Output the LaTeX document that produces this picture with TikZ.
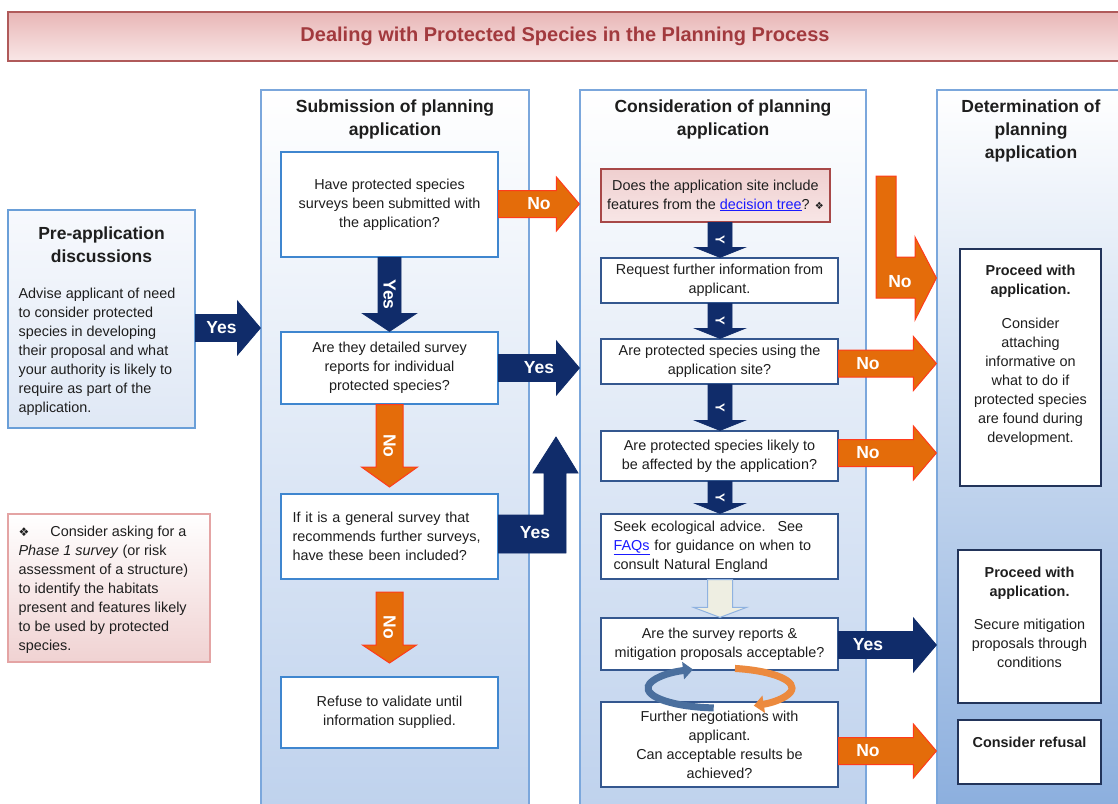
\documentclass[tikz,border=0pt]{standalone}
\usepackage{fontspec}
\setmainfont{Liberation Sans}
\newfontfamily\symfont{DejaVu Sans}
\usetikzlibrary{calc,positioning,arrows.meta}

\definecolor{ink}{HTML}{1E1E1E}
\definecolor{laneline}{HTML}{7BA7DC}
\definecolor{lanebot}{HTML}{BFD2ED}
\definecolor{detbot}{HTML}{8CAFDE}
\definecolor{subline}{HTML}{3F86CF}
\definecolor{conline}{HTML}{34578F}
\definecolor{detline}{HTML}{22345A}
\definecolor{pinkline}{HTML}{A84848}
\definecolor{pinktop}{HTML}{EFCFCF}
\definecolor{pinkbot}{HTML}{F8E6E6}
\definecolor{preline}{HTML}{6A9FD8}
\definecolor{pretop}{HTML}{F7F9FD}
\definecolor{prebot}{HTML}{DFE8F5}
\definecolor{phaseline}{HTML}{E4A4A4}
\definecolor{phasebot}{HTML}{F0D2D2}
\definecolor{titleline}{HTML}{B05A5A}
\definecolor{titletop}{HTML}{E8B6B6}
\definecolor{titlebot}{HTML}{F9E7E7}
\definecolor{titletext}{HTML}{A23A3E}
\definecolor{orangefill}{HTML}{E46C0A}
\definecolor{orangeline}{HTML}{FF3B1C}
\definecolor{navy}{HTML}{102C6A}
\definecolor{beige}{HTML}{EEEEE2}
\definecolor{beigeline}{HTML}{8FB2E0}
\definecolor{linkblue}{HTML}{1A1AFF}
\definecolor{cycleblue}{HTML}{4A6F9E}
\definecolor{cycleorange}{HTML}{EC8A3E}

\newcommand\bodysize{\fontsize{14.4}{19}\selectfont}
\newcommand\headsize{\fontsize{17.5}{23}\selectfont\bfseries}
\newcommand\tagsize{\fontsize{17.5}{20}\selectfont\bfseries}
\newcommand\featmark[1]{{\symfont\fontsize{#1}{#1}\selectfont ❖}}
\newcommand\link[1]{\textcolor{linkblue}{\underline{#1}}}

% block arrow pointing right: name, style, start, tip, label position, label
\newcommand\harrow[6]{%
  \path[#2] ($#3+(0,-13.5)$) -- ($#4+(-23,-13.5)$) -- ($#4+(-23,-27)$) -- #4
    -- ($#4+(-23,27)$) -- ($#4+(-23,13.5)$) -- ($#3+(0,13.5)$) -- cycle;
  \node[arrowtag] (#1) at ($#3!#5!#4$) {#6};
}
% block arrow pointing down: name, style, start, tip, half shaft, half head, head length, label
\newcommand\varrow[8]{%
  \path[#2] ($#3+(-#5,0)$) -- ($#4+(-#5,-#7)$) -- ($#4+(-#6,-#7)$) -- #4
    -- ($#4+(#6,-#7)$) -- ($#4+(#5,-#7)$) -- ($#3+(#5,0)$) -- cycle;
  \node[arrowtag, rotate=-90] (#1) at ($#3!0.5!#4$) {#8};
}

\tikzset{
  lane/.style={draw=laneline, line width=1.2pt, top color=white, bottom color=lanebot},
  subbox/.style={draw=subline, line width=1.2pt, fill=white, inner sep=0pt,
    align=center, font=\bodysize, text=ink},
  conbox/.style={subbox, draw=conline},
  detbox/.style={subbox, draw=detline},
  pinkbox/.style={subbox, draw=pinkline, top color=pinktop, bottom color=pinkbot},
  headtext/.style={font=\headsize, align=center, inner sep=0pt, text=ink},
  bodytext/.style={font=\bodysize, inner sep=0pt, text=ink},
  arrowtag/.style={font=\tagsize, text=white, inner sep=0pt},
  noarrow/.style={fill=orangefill, draw=orangeline, line width=1pt},
  yesarrow/.style={fill=navy, draw=navy, line width=0.8pt},
  cycle/.style={line width=7pt, -{Triangle[width=17pt,length=10pt]}},
}

\begin{document}
\begin{tikzpicture}[x=1pt,y=-1pt]
  \useasboundingbox (0,0) rectangle (1118,803);

  \node[draw=titleline, line width=1.5pt, top color=titletop, bottom color=titlebot,
    minimum width=1114, minimum height=49, text=titletext,
    font=\fontsize{20}{24}\selectfont\bfseries] (title) at (565,36.5)
    {Dealing with Protected Species in the Planning Process};

  % pre-application and the note
  \node[draw=preline, line width=1.2pt, top color=pretop, bottom color=prebot,
    minimum width=187, minimum height=218] (pre) at (101.5,319) {};
  \node[headtext, below=17pt of pre.north] (prehead) {Pre-application\\discussions};
  \node[bodytext, align=left, below right=78pt and 11pt of pre.north west] (prebody)
    {Advise applicant of need\\to consider protected\\species in developing\\their proposal and what\\your authority is likely to\\require as part of the\\application.};

  \node[draw=phaseline, line width=1.2pt, top color=white, bottom color=phasebot,
    minimum width=202, minimum height=148] (phase) at (109,588) {};
  \node[bodytext, align=left, below right=12pt and 11pt of phase.north west] (phasebody)
    {\featmark{12}\hspace{21pt}Consider asking for a\\\textit{Phase 1 survey} (or risk\\assessment of a structure)\\to identify the habitats\\present and features likely\\to be used by protected\\species.};

  % submission
  \node[lane, minimum width=268, minimum height=716] (subcol) at (395,448) {};
  \node[headtext, below=10pt of subcol.north] (subhead) {Submission of planning\\application};
  \node[subbox, minimum width=217, minimum height=105] (q1) at (389.5,204.5)
    {Have protected species\\surveys been submitted with\\the application?};
  \node[subbox, minimum width=217, minimum height=72] (q2) at (389.5,368)
    {Are they detailed survey\\reports for individual\\protected species?};
  \node[subbox, minimum width=217, minimum height=85, align=left, text width=194] (q3) at (389.5,536.5)
    {If it is a general survey that\\recommends further surveys,\\have these been included?};
  \node[subbox, minimum width=217, minimum height=71] (q4) at (389.5,712.5)
    {Refuse to validate until\\information supplied.};

  % consideration
  \node[lane, minimum width=286, minimum height=716] (concol) at (723,448) {};
  \node[headtext, below=10pt of concol.north] (conhead) {Consideration of planning\\application};
  \node[pinkbox, minimum width=229, minimum height=53] (cA) at (715.5,195.5)
    {Does the application site include\\features from the \link{decision tree}? \featmark{10}};
  \node[conbox, minimum width=237, minimum height=45] (cB) at (719.5,280.5)
    {Request further information from\\applicant.};
  \node[conbox, minimum width=237, minimum height=45] (cC) at (719.5,361.5)
    {Are protected species using the\\application site?};
  \node[conbox, minimum width=237, minimum height=50] (cD) at (719.5,456)
    {Are protected species likely to\\be affected by the application?};
  \node[conbox, minimum width=237, minimum height=65, align=left, text width=212] (cE) at (719.5,546.5)
    {Seek ecological advice.~ See\\\link{FAQs} for guidance on when to\\consult Natural England};
  \node[conbox, minimum width=237, minimum height=52] (cF) at (719.5,644)
    {Are the survey reports \&\\mitigation proposals acceptable?};
  \node[conbox, minimum width=237, minimum height=85] (cG) at (719.5,744.5)
    {Further negotiations with\\applicant.\\Can acceptable results be\\achieved?};

  % determination
  \node[lane, bottom color=detbot, minimum width=188, minimum height=716] (detcol) at (1031,448) {};
  \node[headtext, below=10pt of detcol.north] (dethead) {Determination of\\planning\\application};
  \node[detbox, minimum width=141, minimum height=237] (d1) at (1030.5,367.5) {};
  \node[bodytext, align=center, below=16pt of d1.north] (d1text)
    {\textbf{Proceed with}\\\textbf{application.}\\[15pt]Consider\\attaching\\informative on\\what to do if\\protected species\\are found during\\development.};
  \node[detbox, minimum width=143, minimum height=153] (d2) at (1029.5,626.5) {};
  \node[bodytext, align=center, below=17pt of d2.north] (d2text)
    {\textbf{Proceed with}\\\textbf{application.}\\[14pt]Secure mitigation\\proposals through\\conditions};
  \node[detbox, minimum width=143, minimum height=64] (d3) at (1029.5,752) {};
  \node[bodytext, below=17pt of d3.north] (d3text) {\textbf{Consider refusal}};

  % straight block arrows
  \harrow{preyes}{yesarrow}{(pre.east |- 0,328)}{(subcol.west |- 0,328)}{0.4}{Yes}
  \harrow{q1no}{noarrow}{(q1.east |- 0,204)}{(concol.west |- 0,204)}{0.5}{No}
  \harrow{q2yes}{yesarrow}{(q2.east |- 0,368)}{(concol.west |- 0,368)}{0.5}{Yes}
  \harrow{cCno}{noarrow}{(cC.east |- 0,363.5)}{(detcol.west |- 0,363.5)}{0.3}{No}
  \harrow{cDno}{noarrow}{(cD.east |- 0,453)}{(detcol.west |- 0,453)}{0.3}{No}
  \harrow{cFyes}{yesarrow}{(cF.east |- 0,645)}{(detcol.west |- 0,645)}{0.3}{Yes}
  \harrow{cGno}{noarrow}{(cG.east |- 0,751)}{(detcol.west |- 0,751)}{0.3}{No}

  \varrow{q1yes}{yesarrow}{(q1.south)}{(q2.north)}{11.5}{27}{18}{Yes}
  \varrow{q2no}{noarrow}{(q2.south)}{(q3.north |- 0,487)}{13.5}{28}{20}{No}
  \varrow{q3no}{noarrow}{(q3.south |- 0,592)}{(q4.north |- 0,663)}{13.5}{27}{18}{No}
  \foreach \from/\to in {cA/cB, cB/cC, cC/cD, cD/cE}
    \varrow{\from y}{yesarrow}{(\from.south -| 720,0)}{(\to.north -| 720,0)}{12}{25}{10}{\fontsize{13}{13}\selectfont Y};
  \path[fill=beige, draw=beigeline, line width=1pt]
    ($(cE.south -| 720,0)+(-12.5,0)$) -- ($(cF.north -| 720,0)+(-12.5,-10)$)
    -- ($(cF.north -| 720,0)+(-26.5,-10)$) -- (cF.north -| 720,0)
    -- ($(cF.north -| 720,0)+(26.5,-10)$) -- ($(cF.north -| 720,0)+(12.5,-10)$)
    -- ($(cE.south -| 720,0)+(12.5,0)$) -- cycle;

  % bent arrows
  \path[yesarrow] (q3.east |- 0,515) -- (544,515) -- (544,473) -- (533,473) -- (556,437)
    -- (578,473) -- (566,473) -- (566,553) -- (q3.east |- 0,553) -- cycle;
  \node[arrowtag] (q3yes) at (535,533) {Yes};
  \path[noarrow] (876,176) -- (896,176) -- (896,257) -- (915,257) -- (915,237)
    -- (detcol.west |- 0,278) -- (915,320) -- (915,298) -- (876,298) -- cycle;
  \node[arrowtag] (cAno) at (900,282) {No};

  % negotiation loop
  \draw[cycle, cycleblue] ([shift={(95:72 and 20)}]720,688)
    arc[start angle=95, end angle=248, x radius=72, y radius=20];
  \draw[cycle, cycleorange] ([shift={(-78:72 and 20)}]720,688)
    arc[start angle=-78, end angle=62, x radius=72, y radius=20];
\end{tikzpicture}
\end{document}
